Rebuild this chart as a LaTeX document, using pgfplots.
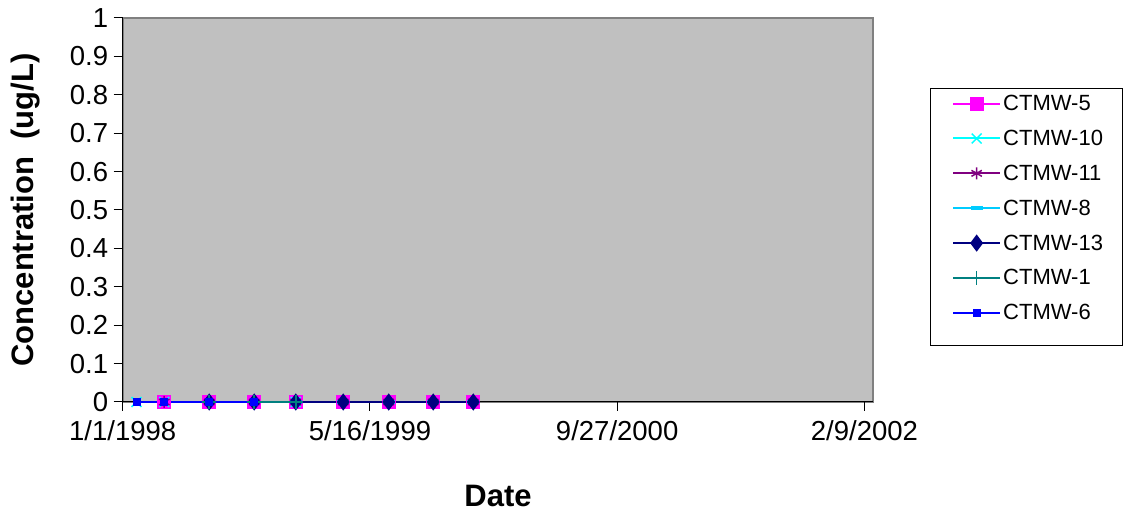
\documentclass[border=0pt]{standalone}
\usepackage{pgfplots}
\pgfplotsset{compat=1.18}
\usepackage{fontspec}
\setmainfont{Liberation Sans}
\usetikzlibrary{calc}
\definecolor{plotgray}{HTML}{C0C0C0}
\definecolor{bordergray}{HTML}{808080}
\definecolor{cmag}{HTML}{FF00FF}
\definecolor{ccyan}{HTML}{00FFFF}
\definecolor{cpurple}{HTML}{800080}
\definecolor{clblue}{HTML}{00CCFF}
\definecolor{cnavy}{HTML}{000080}
\definecolor{cteal}{HTML}{008080}
\definecolor{cblue}{HTML}{0000FF}
\begin{document}
\begin{tikzpicture}
\begin{axis}[
  scale only axis,
  width=750.6pt, height=384pt,
  xmin=35796, xmax=37314,
  ymin=0, ymax=1,
  scaled x ticks=false,
  axis background/.style={fill=plotgray, draw=bordergray, line width=2pt},
  axis x line*=bottom, axis y line*=left,
  axis line style={draw=black, line width=1pt, -},
  xtick={35796,36296,36796,37296},
  xticklabels={1/1/1998,5/16/1999,9/27/2000,2/9/2002},
  ytick={0,0.1,0.2,0.3,0.4,0.5,0.6,0.7,0.8,0.9,1},
  yticklabels={0,0.1,0.2,0.3,0.4,0.5,0.6,0.7,0.8,0.9,1},
  tick align=outside,
  major tick length=9pt,
  tick style={black, line width=1pt},
  ticklabel style={font=\fontsize{27.5}{32}\selectfont},
  yticklabel style={xshift=-2pt, inner ysep=0pt},
  xticklabel style={inner ysep=0pt, yshift=-9pt},
  xlabel={\textbf{Date}},
  ylabel={\textbf{Concentration\ \ (ug/L)}},
  label style={font=\fontsize{31}{36}\selectfont},
  xlabel style={at={(axis description cs:0.5,-0.245)}, anchor=center},
  ylabel style={at={(axis description cs:-0.129,0.5)}, anchor=center, rotate=0},
  legend style={at={(axis description cs:1.0755,0.8177)}, anchor=north west,
    draw=none, fill=none,
    font=\fontsize{22}{26}\selectfont, row sep=14pt,
    inner xsep=22pt, inner ysep=5pt},
  legend cell align=left,
  legend image code/.code={\draw[mark repeat=2,mark phase=2,#1] plot coordinates {(0pt,0pt)(23.5pt,0pt)(47pt,0pt)};},
  every axis plot/.append style={line width=2pt, mark options={solid}},
  clip=false,
]
\draw[black, line width=0.8pt, fill=white] (axis description cs:1.0755,0.8177) rectangle (axis description cs:1.3314,0.1484);
\addplot[cmag, mark=square*, mark size=6pt] coordinates {
 (35880,0) (35971,0) (36062,0) (36146,0) (36242,0) (36334,0) (36424,0) (36505,0)};
\addlegendentry{CTMW-5}
\addplot[ccyan, mark=x, mark size=7pt, mark options={line width=1.5pt}] coordinates {
 (35824,0) (35880,0) (36146,0)};
\addlegendentry{CTMW-10}
\addplot[cpurple, mark=asterisk, mark size=6pt, mark options={line width=1.5pt}] coordinates {
 (35880,0) (35971,0) (36062,0) (36146,0) (36242,0) (36334,0) (36424,0) (36505,0)};
\addlegendentry{CTMW-11}
\addplot[clblue, mark=-, mark size=6pt, mark options={line width=3.5pt}] coordinates {
 (36146,0) (36242,0) (36334,0) (36424,0) (36505,0)};
\addlegendentry{CTMW-8}
\addplot[cnavy, mark=diamond*, mark size=7pt] coordinates {
 (35971,0) (36062,0) (36146,0) (36242,0) (36334,0) (36424,0) (36505,0)};
\addlegendentry{CTMW-13}
\addplot[cteal, mark=+, mark size=7pt, mark options={line width=1.5pt}] coordinates {
 (35971,0) (36062,0) (36146,0)};
\addlegendentry{CTMW-1}
\addplot[cblue, mark=square*, mark size=3pt] coordinates {
 (35824,0) (35880,0) (35971,0) (36062,0)};
\addlegendentry{CTMW-6}
\end{axis}
\pgfresetboundingbox
\path ($(current axis.south west)+(-122.7pt,-111pt)$) rectangle ($(current axis.north east)+(251.7pt,18pt)$);
\end{tikzpicture}
\end{document}
